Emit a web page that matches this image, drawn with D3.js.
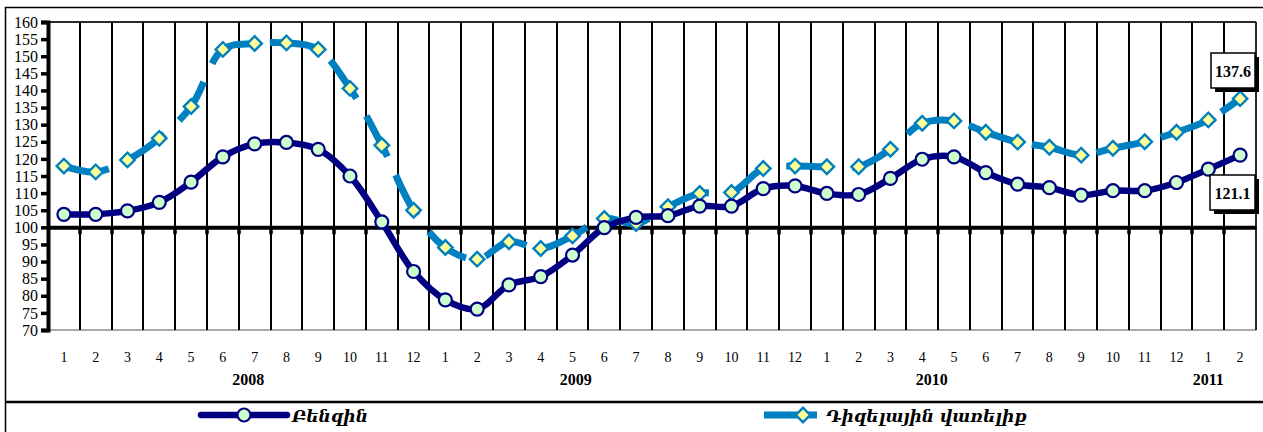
<!DOCTYPE html>
<html><head><meta charset="utf-8">
<script src="https://cdn.jsdelivr.net/npm/d3@7"></script>
<style>html,body{margin:0;padding:0;background:#fff;}svg{display:block;}</style>
</head><body><svg id="c" width="1263" height="432"></svg>
<script>
const monthLabels = ["1","2","3","4","5","6","7","8","9","10","11","12","1","2","3","4","5","6","7","8","9","10","11","12","1","2","3","4","5","6","7","8","9","10","11","12","1","2"];
const yearLabels = [{year:"2008", at:5.8},{year:"2009", at:16.1},{year:"2010", at:27.3},{year:"2011", at:36.0}];
const benzin = [103.8,103.8,104.8,107.3,113.2,120.6,124.4,124.8,122.8,115.0,101.6,87.1,
                78.8,76.1,83.2,85.6,91.9,99.9,102.9,103.4,106.2,106.2,111.3,112.1,
                109.9,109.6,114.3,119.9,120.6,116.0,112.6,111.6,109.4,110.7,110.7,113.1,
                117.0,121.1];
const diesel = [117.9,116.2,119.7,126.0,135.3,152.0,153.7,153.9,152.0,140.6,124.0,105.0,
                94.1,90.7,95.8,93.8,97.5,102.6,101.1,106.0,109.9,110.2,117.2,117.9,
                117.7,117.7,122.8,130.4,131.1,127.8,124.9,123.4,121.1,123.1,125.0,127.8,
                131.4,137.6];
const yTicks = d3.range(70, 161, 5);
const seriesNames = ["Բենզին", "Դիզելային վառելիք"];

const svg = d3.select("#c");
const L = 48, R = 1256, T = 22, B = 330;
const idx = d3.range(monthLabels.length);
const x = d3.scaleBand().domain(idx).range([L, R]).padding(0);
const cx = i => x(i) + x.bandwidth()/2;
const y = d3.scaleLinear().domain([70,160]).range([B, T]);

// outer frame
svg.append("rect").attr("x",5.5).attr("y",7.5).attr("width",1262).attr("height",430)
  .attr("fill","none").attr("stroke","#000").attr("stroke-width",1.5);
svg.append("line").attr("x1",5).attr("x2",1263).attr("y1",402).attr("y2",402)
  .attr("stroke","#000").attr("stroke-width",2.5);

// plot border
svg.append("rect").attr("x",L).attr("y",T).attr("width",R-L).attr("height",B-T)
  .attr("fill","#fff").attr("stroke","#555").attr("stroke-width",1);

// vertical gridlines between categories
svg.append("g").selectAll("line").data(idx.slice(1)).join("line")
  .attr("x1",i=>Math.round(x(i))).attr("x2",i=>Math.round(x(i))).attr("y1",T).attr("y2",B)
  .attr("stroke","#000").attr("stroke-width",2);
svg.append("line").attr("x1",R).attr("x2",R).attr("y1",T).attr("y2",B).attr("stroke","#000").attr("stroke-width",1.5);
svg.append("line").attr("x1",L).attr("x2",R).attr("y1",T).attr("y2",T).attr("stroke","#000").attr("stroke-width",1.5);

// y axis
const yAxis = d3.axisLeft(y).tickValues(yTicks).tickSize(7).tickPadding(3);
const gy = svg.append("g").attr("transform",`translate(${L},0)`).call(yAxis);
gy.select(".domain").attr("stroke","#000").attr("stroke-width",4);
gy.selectAll(".tick line").attr("stroke","#000").attr("stroke-width",3.5);
gy.selectAll(".tick text").attr("font-family","'Liberation Serif', serif").attr("font-size",16).attr("fill","#000");

// x axis at 100
const xAxis = d3.axisBottom(x).tickSize(0).tickFormat(()=>"");
const gx = svg.append("g").attr("transform",`translate(0,${y(100)})`).call(xAxis);
gx.select(".domain").attr("stroke","#000").attr("stroke-width",4);
svg.append("g").selectAll("line").data(idx.slice(1)).join("line")
  .attr("x1",i=>Math.round(x(i))).attr("x2",i=>Math.round(x(i))).attr("y1",y(100)).attr("y2",y(100)+7)
  .attr("stroke","#000").attr("stroke-width",3.5);

// month labels
svg.append("g").selectAll("text").data(idx).join("text")
  .attr("x",i=>cx(i)).attr("y",362).attr("text-anchor","middle")
  .attr("font-family","'Liberation Serif', serif").attr("font-size",14).text(i=>monthLabels[i]);
// year labels
svg.append("g").selectAll("text").data(yearLabels).join("text")
  .attr("x",d=>cx(0)+d.at*x.bandwidth()).attr("y",385).attr("text-anchor","middle")
  .attr("font-family","'Liberation Serif', serif").attr("font-weight","bold").attr("font-size",16).text(d=>d.year);

// diesel line
const lineD = d3.line().x((d,i)=>cx(i)).y(d=>y(d)).curve(d3.curveCatmullRom.alpha(0.5));
svg.append("path").datum(diesel).attr("d",lineD).attr("fill","none")
  .attr("stroke","#0080C0").attr("stroke-width",7).attr("stroke-dasharray","46,20");
// benzin line
svg.append("path").datum(benzin).attr("d",lineD).attr("fill","none")
  .attr("stroke","#000080").attr("stroke-width",6.5).attr("stroke-linejoin","round");

// markers
const dia = d3.symbol().type(d3.symbolSquare).size(105);
svg.append("g").selectAll("path").data(diesel).join("path")
  .attr("d",dia).attr("transform",(d,i)=>`translate(${cx(i)},${y(d)}) rotate(45)`)
  .attr("fill","#FFFF99").attr("stroke","#0080C0").attr("stroke-width",2.4);
svg.append("g").selectAll("circle").data(benzin).join("circle")
  .attr("cx",(d,i)=>cx(i)).attr("cy",d=>y(d)).attr("r",6.5)
  .attr("fill","#CCFFCC").attr("stroke","#000080").attr("stroke-width",2.2);

// value label boxes
function labelBox(val, bx, by, bw, bh){
  const g = svg.append("g");
  g.append("rect").attr("x",bx+4).attr("y",by+4).attr("width",bw).attr("height",bh).attr("fill","#000");
  g.append("rect").attr("x",bx).attr("y",by).attr("width",bw).attr("height",bh).attr("fill","#fff").attr("stroke","#000").attr("stroke-width",1.5);
  g.append("text").attr("x",bx+bw/2).attr("y",by+bh/2+6).attr("text-anchor","middle")
    .attr("font-family","'Liberation Serif', serif").attr("font-weight","bold").attr("font-size",16).text(val.toFixed(1));
}
const last = diesel.length-1;
labelBox(diesel[last], 1211, 53, 44, 35);
labelBox(benzin[last], 1210, 175, 45, 35);

// legend
const lg = svg.append("g");
lg.append("line").attr("x1",201).attr("x2",287).attr("y1",415).attr("y2",415).attr("stroke","#000080").attr("stroke-width",6.5).attr("stroke-linecap","round");
lg.append("circle").attr("cx",244).attr("cy",415).attr("r",6.5).attr("fill","#CCFFCC").attr("stroke","#000080").attr("stroke-width",2.2);
lg.append("text").attr("x",292).attr("y",422).attr("font-family","'DejaVu Serif', serif").attr("font-weight","bold").attr("font-style","italic").attr("font-size",17).text(seriesNames[0]);
lg.append("line").attr("x1",764).attr("x2",817).attr("y1",415).attr("y2",415).attr("stroke","#0080C0").attr("stroke-width",7);
lg.append("path").attr("d",dia).attr("transform","translate(803,415) rotate(45)").attr("fill","#FFFF99").attr("stroke","#0080C0").attr("stroke-width",2.4);
lg.append("text").attr("x",826).attr("y",422).attr("font-family","'DejaVu Serif', serif").attr("font-weight","bold").attr("font-style","italic").attr("font-size",17).text(seriesNames[1]);
</script></body></html>
